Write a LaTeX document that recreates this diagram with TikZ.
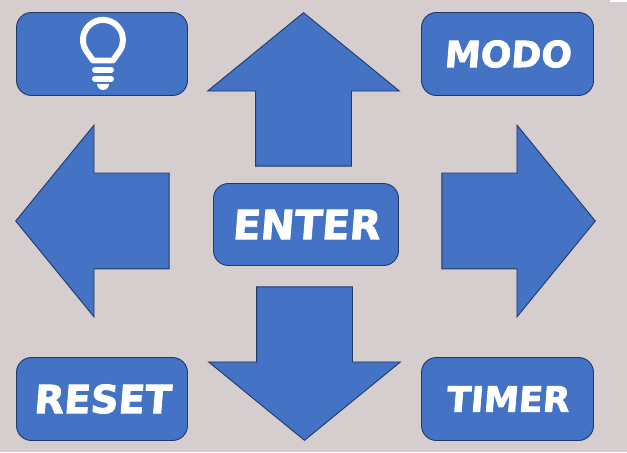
\documentclass[tikz,border=0pt]{standalone}
\usepackage{fontspec}
\newfontfamily\keyfont[FakeSlant=0.08,FakeBold=2.2]{DejaVu Sans Bold}
\usepackage{tikz}
\usetikzlibrary{shapes.arrows}
\definecolor{kback}{HTML}{D6CECE}
\definecolor{kblue}{HTML}{4472C4}
\definecolor{kedge}{HTML}{1F3864}
\tikzset{
  button/.style={draw=kedge, fill=kblue, rounded corners=0.3cm, line width=0.5pt, minimum width=3.42cm, minimum height=1.66cm, inner sep=0pt, text=white},
  padarrow/.style={draw=kedge, fill=kblue, line width=0.5pt, shape=single arrow, single arrow head indent=0pt, single arrow tip angle=101.5, single arrow head extend=0.96cm, minimum height=3.07cm, inner xsep=0pt, inner ysep=0.95cm},
  lampline/.style={draw=white, line width=3.4pt, line cap=round, line join=round},
}
\begin{document}
\begin{tikzpicture}
    \useasboundingbox (0,0) rectangle (12.54,9.04);
    \fill[kback] (0,0) rectangle (12.54,9.04);
    \fill[white] (12.20,9.00) rectangle (12.54,9.04);
    \node[button] (lamp) at (2.04,7.96) {};
    \node[button, minimum width=3.44cm] (modo) at (10.15,7.96) {\keyfont\fontsize{20.5}{20.5}\selectfont MODO};
    \node[button, minimum width=3.70cm, minimum height=1.64cm] (enter) at (6.12,4.55) {\keyfont\fontsize{23}{23}\selectfont ENTER};
    \node[button] (reset) at (2.04,1.06) {\keyfont\fontsize{22}{22}\selectfont RESET};
    \node[button, minimum width=3.44cm] (timer) at (10.15,1.06) {\keyfont\fontsize{20}{20}\selectfont TIMER};
    \node[padarrow, rotate=90] (up) at (6.07,6.86) {};
    \node[padarrow, rotate=270] (down) at (6.09,2.16) {};
    \node[padarrow, rotate=180] (left) at (2.24,4.62) {};
    \node[padarrow] (right) at (9.98,4.62) {};
    \draw[lampline] (1.72,8.03) arc[start angle=212, end angle=-32, radius=0.40] -- (2.26,7.83) -- (1.86,7.83) -- cycle;
    \draw[lampline] (1.90,7.64) -- (2.22,7.64);
    \draw[lampline] (1.90,7.46) -- (2.22,7.46);
    \fill[white] (1.94,7.36) -- (2.18,7.36) arc[start angle=0, end angle=-180, radius=0.12] -- cycle;
\end{tikzpicture}
\end{document}
